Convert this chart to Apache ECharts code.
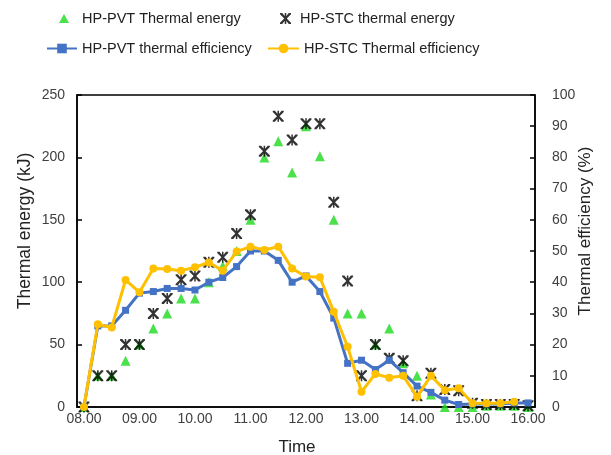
<!DOCTYPE html>
<html>
<head>
<meta charset="utf-8">
<script src="https://cdn.jsdelivr.net/npm/echarts@6/dist/echarts.min.js"></script>
<style>
  html, body { margin: 0; padding: 0; background: #fff; }
  #chart { width: 611px; height: 455px; }
</style>
</head>
<body>
<div id="chart"></div>
<script>
// time of day, every 15 minutes
const times = ['08.00', '08.15', '08.30', '08.45', '09.00', '09.15', '09.30', '09.45',
  '10.00', '10.15', '10.30', '10.45', '11.00', '11.15', '11.30', '11.45',
  '12.00', '12.15', '12.30', '12.45', '13.00', '13.15', '13.30', '13.45',
  '14.00', '14.15', '14.30', '14.45', '15.00', '15.15', '15.30', '15.45', '16.00']

// thermal energy (kJ), left axis
const pvtEnergy = [0, 25, 25, 37, 50, 63, 75, 87, 87, 100, 113, 125, 150, 200, 213, 188,
  225, 201, 150, 75, 75, 50, 63, 35, 25, 10, 0, 0, 0, 1, 1, 1, 0]
const stcEnergy = [0, 25, 25, 50, 50, 75, 87, 102, 105, 116, 120, 139, 154, 205, 233, 214,
  227, 227, 164, 101, 25, 50, 39, 37, 9, 27, 14, 13, 3, 2, 2, 2, 1]

// thermal efficiency (%), right axis
const pvtEff = [0, 26, 26, 31, 36.5, 37, 38, 38, 37.5, 40, 41.5, 45, 50, 50, 47, 40,
  42, 37, 28.5, 14, 15, 12, 15, 11, 6.7, 4.7, 2.2, 0.8, 1, 1, 1, 1.3, 1.3]
const stcEff = [0, 26.5, 25.5, 40.7, 36.8, 44.4, 44.2, 43.7, 44.8, 46.3, 43.7, 49.8, 51.4, 50.3, 51.4, 44.4,
  41.8, 41.6, 30.5, 19.3, 4.9, 10.6, 9.4, 10, 3.3, 10, 5.4, 6, 1.2, 1.2, 1.2, 1.7, null]

const energyTicks = { min: 0, max: 250, interval: 50 }
const effTicks = { min: 0, max: 100, interval: 10 }

const font = 'Liberation Sans, Arial, sans-serif'
const grey = '#404040'
// star marker like excel's
const starPath = 'path://M0,0 L2,0 L5,3.6 L8,0 L10,0 L10,1.2 L6.2,5 L10,8.8 L10,10 L8,10 L5,6.4 L2,10 L0,10 L0,8.8 L3.8,5 L0,1.2 Z M4.3,0 L5.7,0 L5.7,10 L4.3,10 Z'

const chart = echarts.init(document.getElementById('chart'))

function legendAt(name, left, top, w, h, gap) {
  return {
    data: [name], left: left, top: top, padding: 0,
    itemWidth: w, itemHeight: h,
    textStyle: { fontFamily: font, fontSize: 14.5, color: '#222', padding: [0, 0, 0, gap] }
  }
}

chart.setOption({
  animation: false,
  legend: [
    legendAt('HP-PVT Thermal energy', 59, 11, 10, 9, 8),
    legendAt('HP-STC thermal energy', 280, 11, 11, 11, 4),
    legendAt('HP-PVT thermal efficiency', 46, 41, 30, 12, 0),
    legendAt('HP-STC Thermal efficiency', 267, 41, 31, 12, 0)
  ],
  grid: {
    left: 77, right: 76, top: 95, bottom: 48,
    outerBoundsMode: 'none',
    show: true, borderColor: '#000', borderWidth: 1.5
  },
  xAxis: {
    type: 'category',
    data: times,
    boundaryGap: true,
    name: 'Time',
    nameLocation: 'middle',
    nameGap: 32,
    nameTextStyle: { fontFamily: font, fontSize: 17, color: '#222', padding: [0, 18, 0, 0] },
    axisLine: { lineStyle: { color: '#000', width: 1.5 } },
    axisTick: { inside: true, interval: 4, length: 5, lineStyle: { color: '#000', width: 1.5 } },
    axisLabel: { interval: 3, margin: 5, fontFamily: font, fontSize: 14, color: grey }
  },
  yAxis: [
    {
      type: 'value',
      min: energyTicks.min, max: energyTicks.max, interval: energyTicks.interval,
      name: 'Thermal energy (kJ)',
      nameLocation: 'middle',
      nameGap: 43,
      nameMoveOverlap: false,
      nameTextStyle: { fontFamily: font, fontSize: 17.5, color: '#222', padding: [0, 0, 0, 40] },
      axisLine: { show: true, lineStyle: { color: '#000', width: 1.5 } },
      axisTick: { show: true, inside: true, length: 5, lineStyle: { color: '#000', width: 1.5 } },
      axisLabel: { margin: 12, fontFamily: font, fontSize: 14, color: grey },
      splitLine: { show: false }
    },
    {
      type: 'value',
      position: 'right',
      min: effTicks.min, max: effTicks.max, interval: effTicks.interval,
      name: 'Thermal efficiency (%)',
      nameLocation: 'middle',
      nameGap: 42,
      nameMoveOverlap: false,
      nameTextStyle: { fontFamily: font, fontSize: 17, color: '#222', padding: [0, 0, 0, 40] },
      axisLine: { show: true, lineStyle: { color: '#000', width: 1.5 } },
      axisTick: { show: true, inside: true, length: 5, lineStyle: { color: '#000', width: 1.5 } },
      axisLabel: { margin: 17, fontFamily: font, fontSize: 14, color: grey },
      splitLine: { show: false }
    }
  ],
  series: [
    {
      name: 'HP-PVT Thermal energy',
      type: 'scatter',
      yAxisIndex: 0,
      data: pvtEnergy,
      symbol: 'triangle',
      symbolSize: 10,
      itemStyle: { color: '#1ED91E' },
      z: 2
    },
    {
      name: 'HP-STC thermal energy',
      type: 'scatter',
      yAxisIndex: 0,
      data: stcEnergy,
      symbol: starPath,
      symbolSize: 11,
      itemStyle: { color: '#000' },
      z: 3
    },
    {
      name: 'HP-PVT thermal efficiency',
      type: 'line',
      yAxisIndex: 1,
      data: pvtEff,
      symbol: 'rect',
      symbolSize: 7,
      showAllSymbol: true,
      lineStyle: { color: '#4472C4', width: 3 },
      itemStyle: { color: '#4472C4' },
      z: 4
    },
    {
      name: 'HP-STC Thermal efficiency',
      type: 'line',
      yAxisIndex: 1,
      data: stcEff,
      symbol: 'circle',
      symbolSize: 8,
      showAllSymbol: true,
      lineStyle: { color: '#FFC000', width: 3 },
      itemStyle: { color: '#FFC000' },
      z: 5
    }
  ]
})
</script>
</body>
</html>
